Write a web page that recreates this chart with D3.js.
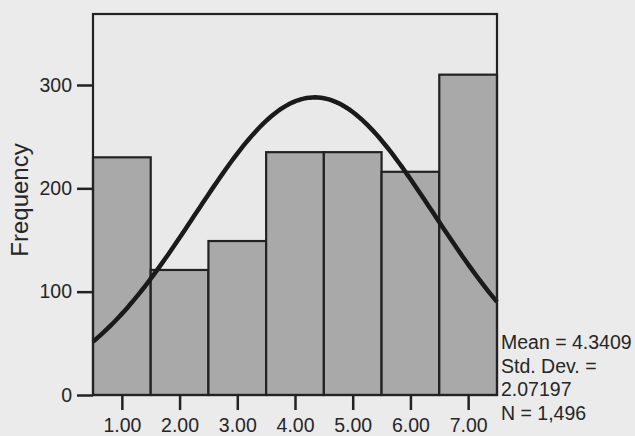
<!DOCTYPE html>
<html>
<head>
<meta charset="utf-8">
<script src="https://cdn.jsdelivr.net/npm/d3@7"></script>
<style>
  body { margin: 0; background: #ebebeb; }
  text { font-family: "Liberation Sans", Arial, sans-serif; fill: #262626; }
</style>
</head>
<body>
<div id="chart"></div>
<script>
// Histogram values (bins centred on 1..7)
const categories = [1, 2, 3, 4, 5, 6, 7];
const frequencies = [230, 121, 149, 235, 235, 216, 310];
const yTicks = [0, 100, 200, 300];
const statsLines = ["Mean = 4.3409", "Std. Dev. =", "2.07197", "N = 1,496"];
const mean = 4.3409, stdDev = 2.07197, nTotal = 1496;

const svgWidth = 635, svgHeight = 436;
const margin = { top: 14, right: 138, bottom: 41, left: 93 };
const width = svgWidth - margin.left - margin.right;
const height = svgHeight - margin.top - margin.bottom;

const svg = d3.select("#chart").append("svg")
    .attr("width", svgWidth)
    .attr("height", svgHeight);

const g = svg.append("g")
    .attr("transform", "translate(" + margin.left + "," + margin.top + ")");

const x = d3.scaleLinear().domain([0.5, 7.5]).range([0, width]);
const y = d3.scaleLinear().domain([0, 368.7]).range([height, 0]);

// plot background
g.append("rect")
    .attr("width", width)
    .attr("height", height)
    .style("fill", "#e9e9e9");

// bars
g.selectAll(".bar")
    .data(categories)
    .enter().append("rect")
    .attr("class", "bar")
    .attr("x", d => x(d - 0.5))
    .attr("y", (d, i) => y(frequencies[i]))
    .attr("width", d => x(d + 0.5) - x(d - 0.5))
    .attr("height", (d, i) => height - y(frequencies[i]))
    .style("fill", "#a9a9a9")
    .style("stroke", "#222")
    .style("stroke-width", 2.2);

// normal curve
const curvePts = d3.range(0.5, 7.5001, 0.05).map(v => {
    const z = (v - mean) / stdDev;
    return [v, nTotal / (stdDev * Math.sqrt(2 * Math.PI)) * Math.exp(-0.5 * z * z)];
});
g.append("path")
    .datum(curvePts)
    .attr("d", d3.line().x(d => x(d[0])).y(d => y(d[1])))
    .style("fill", "none")
    .style("stroke", "#1a1a1a")
    .style("stroke-width", 4.5);

// frame
g.append("rect")
    .attr("width", width)
    .attr("height", height)
    .style("fill", "none")
    .style("stroke", "#222")
    .style("stroke-width", 2.2);

// y axis
const yAxis = g.append("g")
    .call(d3.axisLeft(y).tickValues(yTicks).tickSize(16).tickPadding(5));
yAxis.select(".domain").remove();
yAxis.selectAll("line").style("stroke", "#222").style("stroke-width", 2.5);
yAxis.selectAll("text").style("font-size", "19.5px").style("fill", "#262626");

// x axis
const xAxis = g.append("g")
    .attr("transform", "translate(0," + height + ")")
    .call(d3.axisBottom(x).tickValues(categories).tickFormat(d3.format(".2f")).tickSize(15).tickPadding(8));
xAxis.select(".domain").remove();
xAxis.selectAll("line").style("stroke", "#222").style("stroke-width", 2.5);
xAxis.selectAll("text").style("font-size", "19.5px").style("fill", "#262626");

// y label
svg.append("text")
    .attr("transform", "translate(28,200) rotate(-90)")
    .attr("text-anchor", "middle")
    .style("font-size", "24px")
    .text("Frequency");

// stats text
svg.selectAll(".stat")
    .data(statsLines)
    .enter().append("text")
    .attr("class", "stat")
    .attr("x", margin.left + width + 4)
    .attr("y", (d, i) => 349 + i * 23.5)
    .style("font-size", "19.5px")
    .text(d => d);
</script>
</body>
</html>
